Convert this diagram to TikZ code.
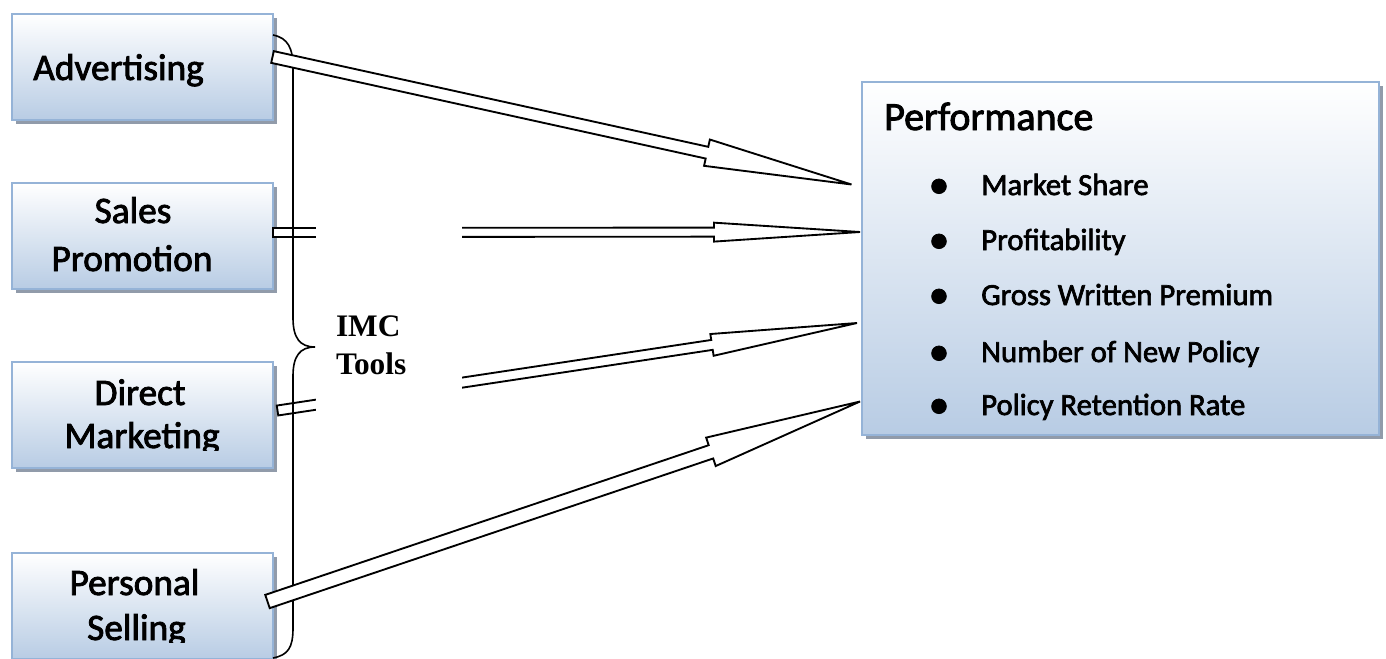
\documentclass[tikz,border=0pt]{standalone}
\usepackage{fontspec}
\setmainfont[FakeBold=2.2]{Carlito}
\newfontfamily\imcfont{Liberation Serif}
\usetikzlibrary{calc,shadows}
\definecolor{boxborder}{RGB}{149,179,215}
\definecolor{boxbottom}{RGB}{184,204,228}
\definecolor{shadowgray}{RGB}{145,155,170}
% block arrow: #1 tail, #2 tip, #3 shaft half-width, #4 head half-width, #5 head length
\newcommand\blockarr[5]{%
  \coordinate (ba-H) at ($(#2)!#5!(#1)$);
  \draw[barrow] ($(#1)!#3!90:(#2)$) -- ($(ba-H)!#3!90:(#2)$) -- ($(ba-H)!#4!90:(#2)$)
    -- (#2) -- ($(ba-H)!#4!-90:(#2)$) -- ($(ba-H)!#3!-90:(#2)$) -- ($(#1)!#3!-90:(#2)$) -- cycle;
}
\begin{document}
\begin{tikzpicture}[x=0.75pt,y=-0.75pt,
  toolbox/.style={draw=boxborder, line width=1.5pt, top color=white, bottom color=boxbottom,
    minimum width=195.75pt, minimum height=79.5pt, inner sep=0pt,
    drop shadow={shadow xshift=3pt, shadow yshift=-3pt, fill=shadowgray, opacity=1}},
  perfbox/.style={toolbox, minimum width=387.75pt, minimum height=264.75pt},
  lbl/.style={font=\fontsize{28}{34}\selectfont, inner sep=0pt, anchor=base},
  item/.style={font=\fontsize{23}{28}\selectfont, inner sep=0pt, anchor=base west},
  bul/.style={font=\bfseries\fontsize{26}{28}\selectfont, inner sep=0pt, anchor=base},
  barrow/.style={draw=black, fill=white, line width=1.4pt, line join=miter},
  bracepath/.style={draw=black, line width=1.2pt}]
\useasboundingbox (0,0) rectangle (1386,658);

% boxes
\node[toolbox] (adv) at (142.5,67) {};
\node[toolbox] (sal) at (142.5,236) {};
\node[toolbox] (dir) at (142.5,415) {};
\node[toolbox] (per) at (142.5,606) {};
\node[perfbox] (perf) at (1120.5,258.5) {};

% arrow end points
\coordinate (advT) at (272.5,57);  \coordinate (advP) at (851.5,184.5);
\coordinate (salT) at (273,232.5); \coordinate (salP) at (860,232);
\coordinate (dirT) at (277.5,410.5); \coordinate (dirP) at (857,323);
\coordinate (perT) at (267.5,601.5); \coordinate (perP) at (860,401.5);

\blockarr{salT}{salP}{3.4pt}{7.1pt}{109.5pt}
\blockarr{dirT}{dirP}{3.75pt}{8.25pt}{110pt}

% brace
\coordinate (brTop) at (273,35);
\coordinate (brTip) at (315,347);
\coordinate (brBot) at (273,658);
\draw[bracepath] (brTop) .. controls (288,38) and (293,48) .. (293,68) -- (293,318)
  .. controls (293,338) and (300,347) .. (brTip)
  .. controls (300,347) and (293,356) .. (293,376) -- (293,628)
  .. controls (293,648) and (288,655) .. (brBot);

\blockarr{advT}{advP}{4.5pt}{10.1pt}{111pt}
\blockarr{perT}{perP}{5.25pt}{11.25pt}{118pt}

% IMC Tools label
\node[fill=white, inner xsep=15pt, inner ysep=0pt, text width=79.5pt, minimum height=195pt,
  align=left, font=\imcfont\bfseries\fontsize{23.5}{28.5}\selectfont] (imc) at (389,345.5) {IMC\\Tools};

% labels
\node[lbl, anchor=base west] (advL) at (33,80) {Advertising};
\node[lbl] (salL1) at (133,223) {Sales};
\node[lbl] (salL2) at (132,271) {Promotion};
\begin{scope}
  \clip (12,300) rectangle (280,450);
  \node[lbl] (dirL1) at (140,405) {Direct};
  \node[lbl] (dirL2) at (142,448) {Marketing};
\end{scope}
\begin{scope}
  \clip (12,500) rectangle (280,642);
  \node[lbl] (perL1) at (134.5,595) {Personal};
  \node[lbl] (perL2) at (136.5,640) {Selling};
\end{scope}

\node[font=\fontsize{30}{36}\selectfont, anchor=base west, inner sep=0pt] (perfT) at (884,130) {Performance};
\node[bul] (b1) at (939,196) {•}; \node[item] (i1) at (981,195) {Market Share};
\node[bul] (b2) at (939,251) {•}; \node[item] (i2) at (981,250) {Profitability};
\node[bul] (b3) at (939,306) {•}; \node[item] (i3) at (981,305) {Gross Written Premium};
\node[bul] (b4) at (939,363) {•}; \node[item] (i4) at (981,362) {Number of New Policy};
\node[bul] (b5) at (939,416) {•}; \node[item] (i5) at (981,415) {Policy Retention Rate};
\end{tikzpicture}
\end{document}
